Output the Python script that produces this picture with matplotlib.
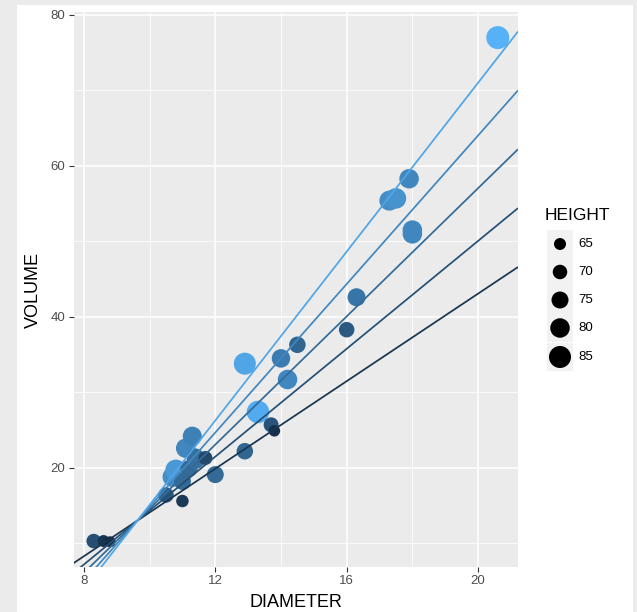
import numpy as np
import matplotlib
matplotlib.use("Agg")
import matplotlib.pyplot as plt
from matplotlib.patches import Rectangle

plt.rcParams['font.family'] = ['Liberation Sans', 'DejaVu Sans']

# Black cherry trees: diameter (in), height (ft), volume (cu ft)
diameter = [8.3, 8.6, 8.8, 10.5, 10.7, 10.8, 11.0, 11.0, 11.1, 11.2, 11.3, 11.4,
            11.4, 11.7, 12.0, 12.9, 12.9, 13.3, 13.7, 13.8, 14.0, 14.2, 14.5,
            16.0, 16.3, 17.3, 17.5, 17.9, 18.0, 18.0, 20.6]
height = [70, 65, 63, 72, 81, 83, 66, 75, 80, 75, 79, 76, 76, 69, 75, 74, 85, 86,
          71, 64, 78, 80, 74, 72, 77, 81, 82, 80, 80, 80, 87]
volume = [10.3, 10.3, 10.2, 16.4, 18.8, 19.7, 15.6, 18.2, 22.6, 19.9, 24.2, 21.0,
          21.4, 21.3, 19.1, 22.2, 33.8, 27.4, 25.7, 24.9, 34.5, 31.7, 36.3, 38.3,
          42.6, 55.4, 55.7, 58.3, 51.5, 51.0, 77.0]

# Interaction model VOLUME ~ DIAMETER * HEIGHT
coef_intercept = 69.3963
coef_diameter = -5.8558
coef_height = -1.2971
coef_interaction = 0.1347
line_heights = [65, 70, 75, 80, 85]

x_ticks = [8, 12, 16, 20]
y_ticks = [20, 40, 60, 80]

W, H = 637, 612
fig = plt.figure(figsize=(W / 100, H / 100), dpi=100)
fig.patch.set_facecolor('#ebebeb')


def px_axes(x0, y0, x1, y1, **kw):
    return fig.add_axes([x0 / W, 1 - y1 / H, (x1 - x0) / W, (y1 - y0) / H], **kw)


# white sheet behind the chart
sheet = px_axes(17, 5, 633, H, zorder=-10)
sheet.set_facecolor('white')
sheet.set_xticks([])
sheet.set_yticks([])
for s in sheet.spines.values():
    s.set_visible(False)


# --- colour scale (Lab interpolation between two blues) ---
def srgb_to_lab(rgb):
    c = np.array(rgb, float)
    c = np.where(c > 0.04045, ((c + 0.055) / 1.055) ** 2.4, c / 12.92)
    m = np.array([[0.4124, 0.3576, 0.1805],
                  [0.2126, 0.7152, 0.0722],
                  [0.0193, 0.1192, 0.9505]])
    xyz = m @ c / np.array([0.95047, 1.0, 1.08883])
    f = np.where(xyz > 0.008856, np.cbrt(xyz), 7.787 * xyz + 16 / 116)
    return np.array([116 * f[1] - 16, 500 * (f[0] - f[1]), 200 * (f[1] - f[2])])


def lab_to_srgb(lab):
    L, a, b = lab
    fy = (L + 16) / 116
    fx = fy + a / 500
    fz = fy - b / 200
    f = np.array([fx, fy, fz])
    xyz = np.where(f ** 3 > 0.008856, f ** 3, (f - 16 / 116) / 7.787)
    xyz = xyz * np.array([0.95047, 1.0, 1.08883])
    m = np.array([[3.2406, -1.5372, -0.4986],
                  [-0.9689, 1.8758, 0.0415],
                  [0.0557, -0.2040, 1.0570]])
    c = m @ xyz
    c = np.where(c > 0.0031308, 1.055 * np.clip(c, 0, None) ** (1 / 2.4) - 0.055, 12.92 * c)
    return tuple(np.clip(c, 0, 1))


low = srgb_to_lab(matplotlib.colors.to_rgb('#132B43'))
high = srgb_to_lab(matplotlib.colors.to_rgb('#56B1F7'))
h_min, h_max = min(height), max(height)


def height_colour(h):
    t = (h - h_min) / (h_max - h_min)
    return lab_to_srgb(low + t * (high - low))


def height_diam_px(h):
    return 12 + 0.5 * (h - 65)


def marker_area(h):
    d_pt = height_diam_px(h) * 0.72
    return d_pt ** 2


# --- main panel ---
ax = px_axes(73.5, 12.4, 518, 567)
x_lo = min(diameter) - 0.05 * (max(diameter) - min(diameter))
x_hi = max(diameter) + 0.05 * (max(diameter) - min(diameter))
y_lo = min(volume) - 0.05 * (max(volume) - min(volume))
y_hi = max(volume) + 0.05 * (max(volume) - min(volume))
ax.set_xlim(x_lo, x_hi)
ax.set_ylim(y_lo, y_hi)
ax.set_facecolor('#ebebeb')
for s in ax.spines.values():
    s.set_visible(False)

for xv in [10, 14, 18]:
    ax.axvline(xv, color='white', lw=0.55, zorder=0.5)
for yv in [10, 30, 50, 70]:
    ax.axhline(yv, color='white', lw=0.55, zorder=0.5)
for xv in x_ticks:
    ax.axvline(xv, color='white', lw=1.1, zorder=0.6)
for yv in y_ticks:
    ax.axhline(yv, color='white', lw=1.1, zorder=0.6)

ax.scatter(diameter, volume, s=[marker_area(h) for h in height],
           c=[height_colour(h) for h in height], edgecolors='none', zorder=2)

xs = np.array([x_lo, x_hi])
for h in line_heights:
    slope = coef_diameter + coef_interaction * h
    icpt = coef_intercept + coef_height * h
    ax.plot(xs, icpt + slope * xs, color=height_colour(h), lw=1.25, zorder=3,
            solid_capstyle='butt')

ax.set_xticks(x_ticks)
ax.set_yticks(y_ticks)
ax.set_xticklabels([str(v) for v in x_ticks])
ax.set_yticklabels([str(v) for v in y_ticks])
ax.tick_params(axis='both', length=3.5, width=0.8, color='#333333',
               labelcolor='#4d4d4d', labelsize=9.5, pad=2.5)
ax.set_xlabel('DIAMETER', fontsize=13, color='black', labelpad=5)
ax.set_ylabel('VOLUME', fontsize=13, color='black', labelpad=6)

# --- size legend ---
lg = px_axes(540, 200, 630, 380)
lg.set_xlim(540, 630)
lg.set_ylim(380, 200)
lg.axis('off')
lg.text(545, 216, 'HEIGHT', fontsize=12.5, va='center', ha='left', color='black')
centres = [244, 272, 300, 328, 357]
for h, cy in zip(line_heights, centres):
    lg.add_patch(Rectangle((547, cy - 14), 26, 28, facecolor='#f2f2f2',
                           edgecolor='none'))
    lg.scatter([560], [cy], s=marker_area(h), color='black', edgecolors='none')
    lg.text(578, cy, str(h), fontsize=9.5, va='center', ha='left', color='black')

fig.savefig('out.png', dpi=100, facecolor=fig.get_facecolor())
